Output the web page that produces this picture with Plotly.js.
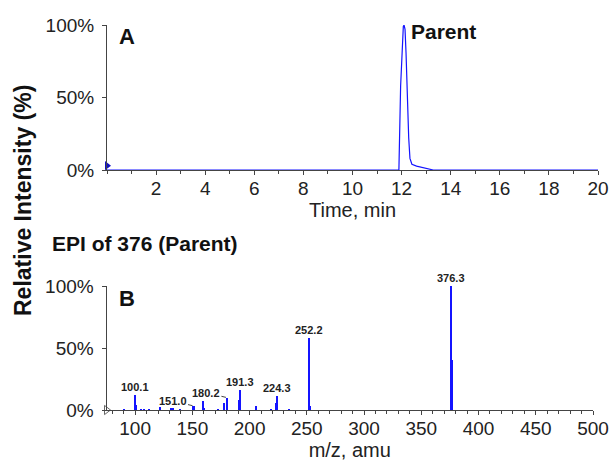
<!DOCTYPE html>
<html>
<head>
<meta charset="utf-8">
<script src="https://cdn.plot.ly/plotly-3.0.1.min.js"></script>
<style>html,body{margin:0;padding:0;background:#fff;}#chart{width:611px;height:463px;}</style>
</head>
<body>
<div id="chart"></div>
<script>
// Panel A: extracted ion chromatogram (time in min, relative intensity %)
const timeMin = [0, 11.89, 11.96, 12.03, 12.07, 12.10, 12.14, 12.18, 12.23, 12.29, 12.34, 12.42, 12.61, 12.89, 13.16, 13.29, 20];
const xicIntensity = [0, 0, 58, 90, 99, 100, 97, 81, 51, 22, 8, 4, 2.7, 1.6, 0.5, 0, 0];

// Panel B: EPI spectrum of m/z 376
const msMz = [90, 100.1, 101, 105, 108, 112, 122, 131, 133, 139, 151.0, 159, 160, 172, 177.5, 180.2, 190.5, 191.3, 206, 219, 223.5, 224.3, 234.5, 251.6, 252.2, 253, 375.9, 376.3, 376.7];
const msIntensity = [1, 12.5, 4, 1.2, 1, 0.8, 2.8, 1.5, 1.5, 0.8, 3.3, 7.4, 2, 0.8, 5.5, 10, 8, 16.5, 3, 1, 6, 11, 1, 26, 58, 3, 17, 100, 40];

// Labelled peaks
const labelMz = [100.1, 151.0, 180.2, 191.3, 224.3, 252.2, 376.3];
const labelText = ["100.1", "151.0", "180.2", "191.3", "224.3", "252.2", "376.3"];
const leaderPeaks = ["151.0", "180.2"];

const yTicks = [0, 50, 100];
const yTickText = ["0%", "50%", "100%"];
const xTicksA = [2, 4, 6, 8, 10, 12, 14, 16, 18, 20];
const xTicksB = [100, 150, 200, 250, 300, 350, 400, 450, 500];

const FONT = "Liberation Sans, Arial, sans-serif";
const BLUE = "#1414ff";
const AXIS = "#444444";
const W = 611, H = 463;
const px = v => v / W;
const py = v => 1 - v / H;

const traces = [
  {
    type: "scatter", mode: "lines", x: timeMin, y: xicIntensity,
    xaxis: "x", yaxis: "y", line: {color: BLUE, width: 1.2}, hoverinfo: "skip"
  },
  {
    type: "scatter", mode: "markers", x: [0], y: [3], xaxis: "x", yaxis: "y",
    marker: {symbol: "triangle-right", size: 8, color: "#1010c0"}, cliponaxis: false, hoverinfo: "skip"
  },
  {
    type: "bar", x: msMz, y: msIntensity, xaxis: "x2", yaxis: "y2",
    width: 1.8, marker: {color: BLUE, line: {width: 0}}, hoverinfo: "skip"
  },
  {
    type: "scatter", mode: "markers", x: [75], y: [0], xaxis: "x2", yaxis: "y2",
    marker: {symbol: "triangle-right-open", size: 8, color: "#666"}, cliponaxis: false, hoverinfo: "skip"
  }
];

const axisCommon = {
  showgrid: false, zeroline: false, showline: true, linecolor: AXIS, linewidth: 1,
  ticks: "outside", tickcolor: AXIS, ticklen: 4, tickwidth: 1,
  tickfont: {family: FONT, size: 19, color: "#222"}, fixedrange: true
};

const annotations = [];
labelMz.forEach((mz, i) => {
  const idx = msMz.indexOf(mz);
  const yv = msIntensity[idx];
  if (leaderPeaks.includes(labelText[i])) {
    annotations.push({
      xref: "x2", yref: "y2", x: mz, y: yv, text: "<b>" + labelText[i] + "</b>",
      showarrow: true, arrowhead: 0, arrowwidth: 1, arrowcolor: "#444", ax: -21, ay: -5, standoff: 1,
      font: {family: FONT, size: 11, color: "#222"}
    });
  } else {
    annotations.push({
      xref: "x2", yref: "y2", x: mz, y: yv, text: "<b>" + labelText[i] + "</b>",
      showarrow: false, yanchor: "bottom", yshift: 0,
      font: {family: FONT, size: 11, color: "#222"}
    });
  }
});

annotations.push(
  {xref: "paper", yref: "paper", x: px(117), y: py(36), xanchor: "left", yanchor: "middle",
   text: "<b>A</b>", showarrow: false, font: {family: FONT, size: 22, color: "#111"}},
  {xref: "paper", yref: "paper", x: px(117), y: py(298), xanchor: "left", yanchor: "middle",
   text: "<b>B</b>", showarrow: false, font: {family: FONT, size: 22, color: "#111"}},
  {xref: "paper", yref: "paper", x: px(409), y: py(31), xanchor: "left", yanchor: "middle",
   text: "<b>Parent</b>", showarrow: false, font: {family: FONT, size: 21, color: "#111"}},
  {xref: "paper", yref: "paper", x: px(50), y: py(243), xanchor: "left", yanchor: "middle",
   text: "<b>EPI of 376 (Parent)</b>", showarrow: false, font: {family: FONT, size: 21, color: "#111"}},
  {xref: "paper", yref: "paper", x: px(23), y: py(201), xanchor: "center", yanchor: "middle",
   text: "<b>Relative Intensity (%)</b>", textangle: -90, showarrow: false,
   font: {family: FONT, size: 23, color: "#111"}}
);

const layout = {
  width: W, height: H,
  margin: {l: 0, r: 0, t: 0, b: 0},
  paper_bgcolor: "#fff", plot_bgcolor: "#fff",
  showlegend: false, bargap: 0,
  font: {family: FONT, color: "#222"},
  xaxis: Object.assign({}, axisCommon, {
    domain: [px(107), px(598)], range: [0, 20], anchor: "y",
    tickvals: xTicksA, minor: {dtick: 1, ticks: "outside", ticklen: 3, tickcolor: AXIS},
    ticklabelstandoff: -3,
    title: {text: "Time, min", font: {family: FONT, size: 20, color: "#222"}, standoff: 0}
  }),
  yaxis: Object.assign({}, axisCommon, {
    domain: [py(170), py(25)], range: [0, 100], anchor: "x",
    tickvals: yTicks, ticktext: yTickText, ticklabelstandoff: 4
  }),
  xaxis2: Object.assign({}, axisCommon, {
    domain: [px(106.5), px(593)], range: [75, 500], anchor: "y2",
    tickvals: xTicksB, minor: {dtick: 10, ticks: "outside", ticklen: 3, tickcolor: AXIS},
    ticklabelstandoff: -3,
    title: {text: "m/z, amu", font: {family: FONT, size: 20, color: "#222"}, standoff: 0}
  }),
  yaxis2: Object.assign({}, axisCommon, {
    domain: [py(410), py(286)], range: [0, 100], anchor: "x2",
    tickvals: yTicks, ticktext: yTickText, ticklabelstandoff: 4
  }),
  annotations: annotations
};

Plotly.newPlot("chart", traces, layout, {displayModeBar: false, staticPlot: true});
</script>
</body>
</html>
